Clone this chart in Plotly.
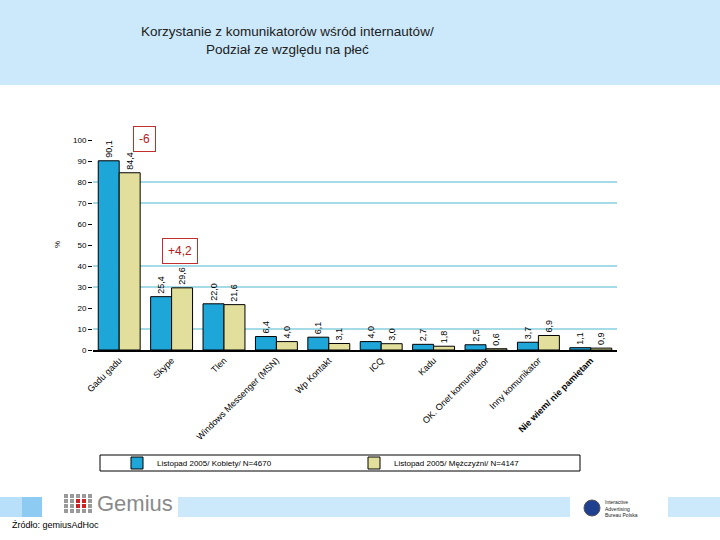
import plotly.graph_objects as go

categories = ["Gadu gadu", "Skype", "Tlen", "Windows Messenger (MSN)", "Wp Kontakt",
              "ICQ", "Kadu", "OK. Onet komunikator", "Inny komunikator",
              "<b>Nie wiem/ nie pamiętam</b>"]
kobiety = [90.1, 25.4, 22.0, 6.4, 6.1, 4.0, 2.7, 2.5, 3.7, 1.1]
mezczyzni = [84.4, 29.6, 21.6, 4.0, 3.1, 3.0, 1.8, 0.6, 6.9, 0.9]
series_names = ["Listopad 2005/ Kobiety/ N=4670", "Listopad 2005/ Mężczyźni/ N=4147"]
y_ticks = [0, 10, 20, 30, 40, 50, 60, 70, 80, 90, 100]
grid_values = [10, 30, 40, 70, 80]
diff_labels = ["-6", "+4,2"]

FONT = "Arial, Liberation Sans, sans-serif"
W, H = 720, 540
L, R, T, B = 93, 103, 140, 190
PW, PH = W - L - R, H - T - B


def px(x):
    return (x - L) / PW


def py(y):
    return (H - B - y) / PH


def fmt(v):
    return f"{v:.1f}".replace(".", ",")


fig = go.Figure()
fig.add_trace(go.Bar(
    x=categories, y=kobiety, name=series_names[0],
    marker=dict(color="#1ea6d9", line=dict(color="#000000", width=1)),
    text=[fmt(v) for v in kobiety], textposition="outside", textangle=-90,
    textfont=dict(size=9, color="#000000", family=FONT), cliponaxis=False,
))
fig.add_trace(go.Bar(
    x=categories, y=mezczyzni, name=series_names[1],
    marker=dict(color="#e2df9c", line=dict(color="#000000", width=1)),
    text=[fmt(v) for v in mezczyzni], textposition="outside", textangle=-90,
    textfont=dict(size=9, color="#000000", family=FONT), cliponaxis=False,
))

shapes = []
# header band
shapes.append(dict(type="rect", xref="paper", yref="paper", x0=px(0), x1=px(W), y0=py(85), y1=py(0),
                   fillcolor="#cce9fb", line=dict(width=0), layer="below"))
# grid lines
for g in grid_values:
    shapes.append(dict(type="line", xref="paper", yref="y", x0=0, x1=1, y0=g, y1=g,
                       line=dict(color="#4bb7cf", width=1), layer="below"))
# legend frame
shapes.append(dict(type="rect", xref="paper", yref="paper", x0=px(100), x1=px(580), y0=py(471), y1=py(455),
                   line=dict(color="#000000", width=1), fillcolor="rgba(0,0,0,0)"))
# bottom bands
for x0, x1, c in [(0, 22, "#b8e0fa"), (22, 42, "#8ecbf2"), (178, 570, "#cce9fb"), (668, 720, "#cce9fb")]:
    shapes.append(dict(type="rect", xref="paper", yref="paper", x0=px(x0), x1=px(x1), y0=py(517), y1=py(497),
                       fillcolor=c, line=dict(width=0), layer="below"))
# Gemius logo grid
for i in range(5):
    for j in range(4):
        col = "#d02020" if (i in (2, 3) and j in (1, 2)) else "#9a9a9a"
        x0 = 64 + i * 6
        y0 = 494 + j * 5
        shapes.append(dict(type="rect", xref="paper", yref="paper", x0=px(x0), x1=px(x0 + 4),
                           y0=py(y0 + 4), y1=py(y0), fillcolor=col, line=dict(width=0)))
# IAB logo circle
shapes.append(dict(type="circle", xref="paper", yref="paper", x0=px(584), x1=px(600), y0=py(516), y1=py(500),
                   fillcolor="#1f3f8f", line=dict(color="#555555", width=1)))


def ann(text, x, y, size, color="#000000", xanchor="center", **kw):
    return dict(text=text, xref="paper", yref="paper", x=px(x), y=py(y), showarrow=False,
                xanchor=xanchor, yanchor="middle",
                font=dict(size=size, color=color, family=FONT), **kw)


annotations = [
    ann("Korzystanie z komunikatorów wśród internautów/<br>Podział ze względu na płeć", 287, 41, 13.5,
        color="#202020"),
    ann("%", 57, 245, 8, textangle=-90),
    ann(diff_labels[0], 144, 139, 12, color="#b02020", bordercolor="#c03030", borderwidth=1,
        borderpad=5, bgcolor="#ffffff"),
    ann(diff_labels[1], 180, 251, 12, color="#b02020", bordercolor="#c03030", borderwidth=1,
        borderpad=5, bgcolor="#ffffff"),
    ann("Gemius", 95, 503, 22, color="#8a8a8a", xanchor="left"),
    ann("Interactive<br>Advertising<br>Bureau Polska", 603, 508, 5, color="#222222", xanchor="left",
        align="left"),
    ann("Źródło: gemiusAdHoc", 10, 525, 9, xanchor="left"),
]

fig.update_layout(
    width=W, height=H, autosize=False,
    margin=dict(l=L, r=R, t=T, b=B, pad=0),
    paper_bgcolor="#ffffff", plot_bgcolor="#ffffff",
    barmode="group", bargap=0.2, bargroupgap=0,
    separators=", ",
    font=dict(family=FONT, color="#000000"),
    shapes=shapes, annotations=annotations,
    showlegend=True,
    legend=dict(orientation="h", x=px(117), y=py(463), xanchor="left", yanchor="middle",
                entrywidth=192, entrywidthmode="pixels", bgcolor="rgba(0,0,0,0)",
                font=dict(size=8, family=FONT, color="#000000")),
    xaxis=dict(tickangle=-45, tickfont=dict(size=9, family=FONT, color="#000000"),
               showline=True, linecolor="#000000", linewidth=1.5, ticks="", showgrid=False),
    yaxis=dict(range=[0, 100], tickvals=y_ticks, tickfont=dict(size=8, family=FONT, color="#000000"),
               showgrid=False, zeroline=False, showline=False, ticks="outside", ticklen=4,
               tickcolor="#000000"),
)

fig.write_html("out.html", config={"displayModeBar": False},
               post_script="document.body.style.margin='0';document.body.style.overflow='hidden';")
